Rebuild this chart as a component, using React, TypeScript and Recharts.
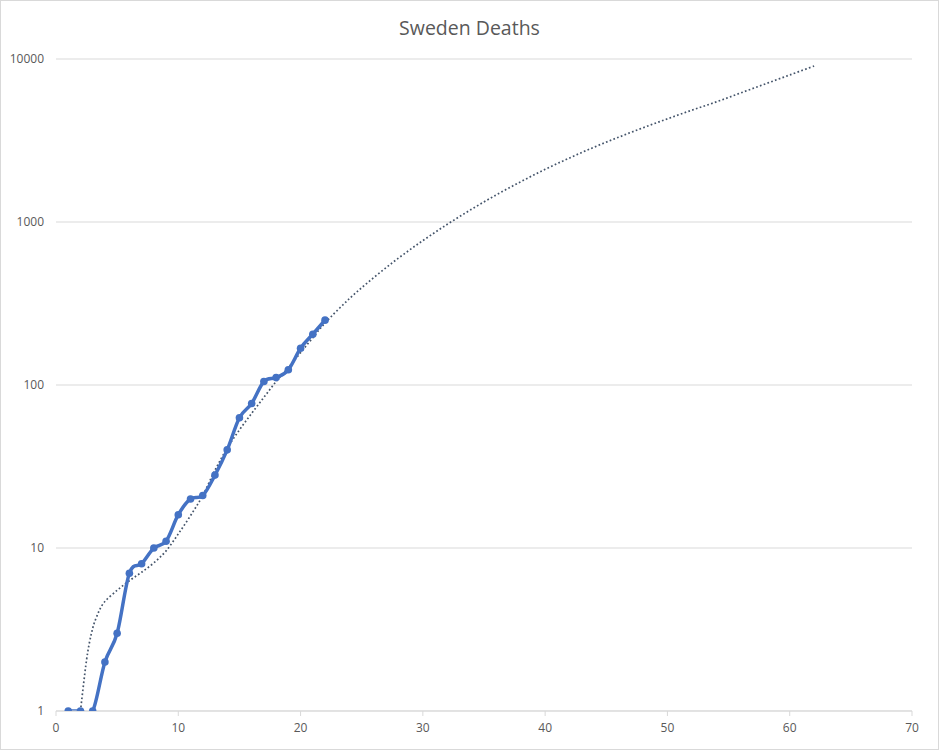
import { LineChart, Line, XAxis, YAxis, CartesianGrid } from 'recharts';

// días desde el primer fallecido y muertes acumuladas
const dias = [1, 2, 3, 4, 5, 6, 7, 8, 9, 10, 11, 12, 13, 14, 15, 16, 17, 18, 19, 20, 21, 22];
const muertes = [1, 1, 1, 2, 3, 7, 8, 10, 11, 16, 20, 21, 28, 40, 63, 77, 105, 111, 124, 168, 205, 250];

// línea de tendencia punteada
const tendenciaX = [2, 2.5, 2.9, 3.3, 3.9, 5, 6, 7, 8, 9, 10, 11, 12, 13, 14, 15, 16, 17, 18, 19, 20, 21, 22, 24, 26, 28, 30, 32, 34, 36, 38, 40, 42, 44, 46, 48, 50, 52, 54, 56, 58, 60, 62];
const tendenciaY = [1, 2.06, 3.0, 3.75, 4.6, 5.5, 6.3, 7.1, 8.1, 9.6, 12.2, 15.8, 21, 30, 41, 53, 67, 84, 105, 128, 158, 195, 240, 339, 457, 600, 769, 968, 1200, 1466, 1766, 2104, 2472, 2877, 3311, 3784, 4295, 4853, 5458, 6194, 7031, 7980, 9057];

const ticksX = [0, 10, 20, 30, 40, 50, 60, 70];
const ticksY = [1, 10, 100, 1000, 10000];

const serieMuertes = dias.map((x, i) => ({ x, y: muertes[i] }));
const serieTendencia = tendenciaX.map((x, i) => ({ x, y: tendenciaY[i] }));

// curva suavizada tipo Excel (Catmull-Rom con béziers)
const curvaSuave = (context: any) => {
  let pts: number[][] = [];
  return {
    areaStart() {},
    areaEnd() {},
    lineStart() { pts = []; },
    lineEnd() {
      if (!pts.length) return;
      context.moveTo(pts[0][0], pts[0][1]);
      for (let i = 0; i < pts.length - 1; i++) {
        const p0 = pts[i - 1] || pts[i];
        const p1 = pts[i];
        const p2 = pts[i + 1];
        const p3 = pts[i + 2] || p2;
        const t = 1 / 6;
        context.bezierCurveTo(
          p1[0] + (p2[0] - p0[0]) * t, p1[1] + (p2[1] - p0[1]) * t,
          p2[0] - (p3[0] - p1[0]) * t, p2[1] - (p3[1] - p1[1]) * t,
          p2[0], p2[1]
        );
      }
    },
    point(x: number, y: number) { pts.push([+x, +y]); },
  };
};

export default function App() {
  return (
    <div
      style={{
        position: 'absolute',
        left: 0,
        top: 0,
        width: 937,
        height: 748,
        border: '1px solid #d9d9d9',
        background: '#fff',
        fontFamily: '"Open Sans", sans-serif',
      }}
    >
      <div
        style={{
          position: 'absolute',
          top: 13,
          width: '100%',
          textAlign: 'center',
          fontSize: 19.5,
          color: '#595959',
        }}
      >
        Sweden Deaths
      </div>
      <LineChart width={937} height={748} margin={{ top: 58, right: 26, bottom: 8, left: 0 }}>
        <CartesianGrid vertical={false} stroke="#d9d9d9" />
        <XAxis
          dataKey="x"
          type="number"
          domain={[0, 70]}
          ticks={ticksX}
          allowDataOverflow
          height={30}
          stroke="#d9d9d9"
          tickSize={5}
          tickMargin={7}
          tick={{ fontSize: 12, fill: '#595959' }}
        />
        <YAxis
          type="number"
          scale="log"
          domain={[1, 10000]}
          ticks={ticksY}
          allowDataOverflow
          width={55}
          axisLine={false}
          tickLine={false}
          tickMargin={6}
          tick={{ fontSize: 12, fill: '#595959' }}
        />
        <Line
          data={serieTendencia}
          dataKey="y"
          type={curvaSuave as any}
          stroke="#44546A"
          strokeWidth={1.7}
          strokeDasharray="1.7 2.3"
          dot={false}
          isAnimationActive={false}
        />
        <Line
          data={serieMuertes}
          dataKey="y"
          type={curvaSuave as any}
          stroke="#4472C4"
          strokeWidth={3.5}
          dot={{ r: 3.8, fill: '#4472C4', stroke: '#4472C4', strokeWidth: 0 }}
          isAnimationActive={false}
        />
      </LineChart>
    </div>
  );
}
